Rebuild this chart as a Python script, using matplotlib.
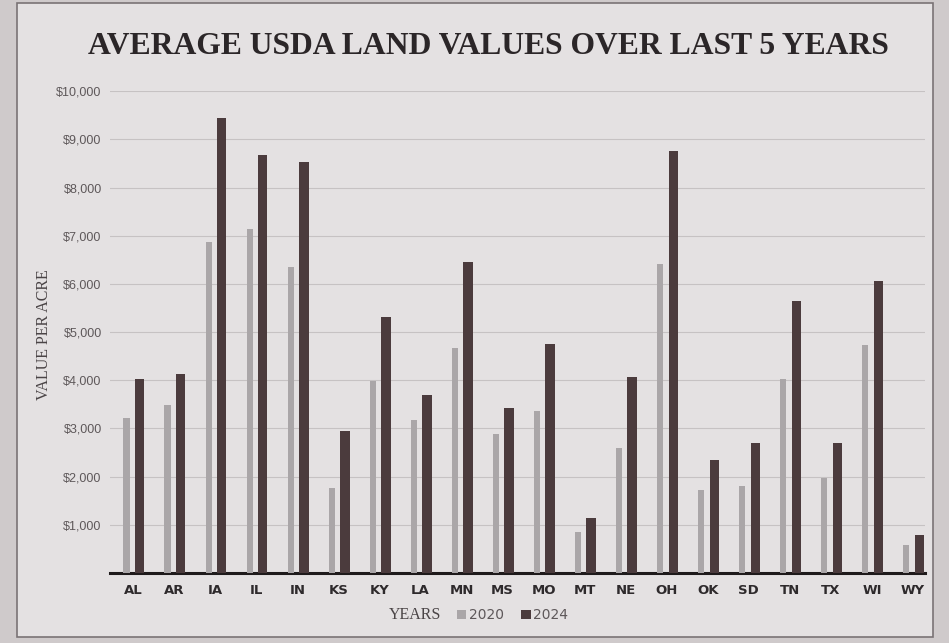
import numpy as np
import matplotlib
matplotlib.use("Agg")
from matplotlib import pyplot as plt
from matplotlib.patches import Rectangle
from matplotlib.ticker import FuncFormatter, MultipleLocator

states = ["AL", "AR", "IA", "IL", "IN", "KS", "KY", "LA", "MN", "MS",
          "MO", "MT", "NE", "OH", "OK", "SD", "TN", "TX", "WI", "WY"]
values2020 = [3220, 3490, 6870, 7140, 6350, 1760, 3980, 3170, 4670, 2880,
              3360, 850, 2590, 6410, 1720, 1800, 4020, 1970, 4730, 580]
values2024 = [4020, 4130, 9440, 8670, 8530, 2950, 5310, 3690, 6450, 3420,
              4750, 1140, 4070, 8760, 2340, 2700, 5640, 2700, 6060, 790]
series_names = ["2020", "2024"]

paper = "#e4e1e2"
light = "#aaa6a8"
dark = "#4b3b3d"

fig = plt.figure(figsize=(9.49, 6.43), dpi=100, facecolor="#cfcacb")
# paper sheet
fig.patches.append(Rectangle((0.018, 0.01), 0.965, 0.985, transform=fig.transFigure,
                             facecolor=paper, edgecolor="#7a7375", linewidth=1.2, zorder=-5))

ax = fig.add_axes([0.116, 0.109, 0.859, 0.749])
ax.set_facecolor("none")

x = np.arange(len(states))
ax.bar(x - 0.16, values2020, width=0.15, color=light, label=series_names[0], zorder=3)
ax.bar(x + 0.16, values2024, width=0.23, color=dark, label=series_names[1], zorder=3)

ax.set_xlim(-0.56, 19.3)
ax.set_ylim(0, 10000)
ax.yaxis.set_major_locator(MultipleLocator(1000))
ax.yaxis.set_major_formatter(FuncFormatter(lambda v, p: "" if v == 0 else f"${v:,.0f}"))
ax.grid(axis="y", color="#c6c2c3", linewidth=0.8, zorder=0)

for side in ["top", "right", "left"]:
    ax.spines[side].set_visible(False)
ax.spines["bottom"].set_color("#1e1a1b")
ax.spines["bottom"].set_linewidth(2.2)

ax.set_xticks(x)
ax.set_xticklabels(states, fontsize=9.5, fontweight="bold", color="#2e2a2c",
                   family="DejaVu Sans")
ax.tick_params(axis="x", length=0, pad=8)
ax.tick_params(axis="y", length=0, labelsize=9, labelcolor="#5e585a", pad=6)
for lbl in ax.get_yticklabels():
    lbl.set_family("Liberation Sans")

fig.text(0.046, 0.48, "VALUE PER ACRE", rotation=90, ha="center", va="center",
         family="Liberation Serif", fontsize=11.5, color="#4a4446")

fig.text(0.515, 0.927, "AVERAGE USDA LAND VALUES OVER LAST 5 YEARS", ha="center",
         va="center", family="Liberation Serif", fontweight="bold", fontsize=22.8,
         color="#2b2628")

fig.text(0.465, 0.043, "YEARS", ha="right", va="center", family="Liberation Serif",
         fontsize=11.5, color="#4a4446")
leg = fig.legend(loc="center left", bbox_to_anchor=(0.468, 0.043), ncol=2, frameon=False,
                 fontsize=10, handlelength=0.7, handleheight=0.7, handletextpad=0.2,
                 columnspacing=1.2)
for t in leg.get_texts():
    t.set_color("#5e585a")

fig.savefig("out.png", dpi=100, facecolor=fig.get_facecolor())
